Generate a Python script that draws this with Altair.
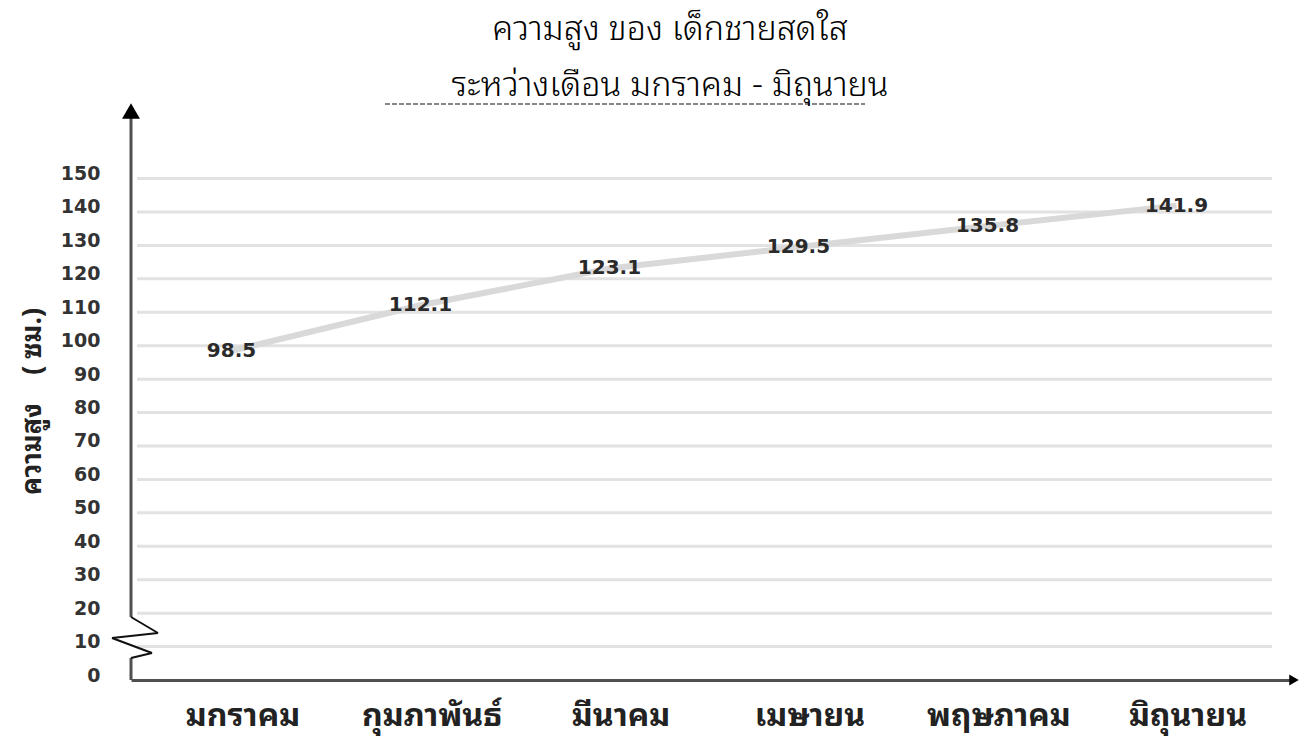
import altair as alt
import pandas as pd

# ---- data ----
months = ["มกราคม", "กุมภาพันธ์", "มีนาคม", "เมษายน", "พฤษภาคม", "มิถุนายน"]
heights = [98.5, 112.1, 123.1, 129.5, 135.8, 141.9]
y_ticks = list(range(0, 151, 10))
grid_values = list(range(10, 151, 10))
title_text = "ความสูง ของ เด็กชายสดใส"
subtitle_text = "ระหว่างเดือน มกราคม - มิถุนายน"
y_title = "ความสูง\u00a0\u00a0\u00a0\u00a0(\u00a0ซม.)"

df = pd.DataFrame({"month": months, "height": heights})
df["label"] = [f"{v:.1f}" for v in heights]
grid_df = pd.DataFrame({"v": grid_values})
one = pd.DataFrame({"k": [0]})

W, H = 1160, 575
THAI = "Noto Sans Thai Looped, Loma, Garuda, Tahoma, Noto Serif Thai, Noto Sans Thai, DejaVu Sans, sans-serif"
NUM = "DejaVu Sans"
AX = "#505050"

y_scale = alt.Scale(domain=[0, 172], nice=False)
x_scale = alt.Scale(type="point", padding=0.5688, align=0.4674)

x_axis = alt.Axis(
    title=None, domain=True, domainColor=AX, domainWidth=3, ticks=False, grid=False,
    labelFont=THAI, labelFontSize=32, labelFontWeight="bold", labelColor="#222",
    labelBaseline="middle", labelPadding=35, labelOffset=11, labelAngle=0,
)
y_axis = alt.Axis(
    values=y_ticks, domain=False, ticks=False, grid=False,
    labelFont=NUM, labelFontSize=19, labelFontWeight="bold", labelColor="#333",
    labelPadding=31, labelOffset=-5, labelBaseline="middle",
    title=y_title, titleFont=THAI, titleFontSize=27, titleFontWeight="bold", titleColor="#222",
    titleAngle=270, titleAlign="center", titleBaseline="middle", titleX=-99, titleY=296,
)

x_enc = alt.X("month:N", sort=months, scale=x_scale, axis=x_axis)

grid = alt.Chart(grid_df).mark_rule(color="#e2e2e2", strokeWidth=3).encode(
    y=alt.Y("v:Q", scale=y_scale, axis=y_axis), x=alt.value(6), x2=alt.value(1141)
)

line = alt.Chart(df).mark_line(color="#d9d9d9", strokeWidth=6).encode(
    x=x_enc, y=alt.Y("height:Q", scale=y_scale, axis=y_axis)
)

labels = alt.Chart(df).mark_text(
    font=NUM, fontWeight="bold", fontSize=20, color="#2a2a2a", baseline="middle", align="center"
).encode(
    x=x_enc,
    y=alt.Y("height:Q", scale=y_scale, axis=y_axis),
    text="label:N",
)

# decorations: vertical axis with break, arrows, dotted underline
def seg(x1, y1, x2, y2, color=AX, w=3):
    return alt.Chart(one).mark_rule(color=color, strokeWidth=w).encode(
        x=alt.value(x1), y=alt.value(y1), x2=alt.value(x2), y2=alt.value(y2)
    )

deco = [
    seg(0, 8, 0, 512),
    seg(0, 553, 0, H),
    seg(0, 512, 27, 528, "#111", 2),
    seg(27, 528, -19, 533, "#111", 2),
    seg(-19, 533, 21, 548, "#111", 2),
    seg(21, 548, 0, 553, "#111", 2),
]
arrow_up = alt.Chart(one).mark_point(shape="triangle-up", filled=True, size=320, color="#000", opacity=1).encode(
    x=alt.value(0), y=alt.value(6)
)
arrow_right = alt.Chart(one).mark_point(shape="triangle-right", filled=True, size=120, color="#000", opacity=1).encode(
    x=alt.value(W + 3), y=alt.value(H)
)
underline = alt.Chart(one).mark_rule(color="#888", strokeWidth=2, strokeDash=[5, 2]).encode(
    x=alt.value(254), x2=alt.value(734), y=alt.value(-1)
)

chart = alt.layer(grid, line, labels, *deco, arrow_up, arrow_right, underline).properties(
    width=W, height=H,
    title=alt.TitleParams(
        text=title_text, subtitle=subtitle_text,
        fontSize=34, font=THAI, fontWeight=300, color="#000", lineHeight=34,
        subtitleFontSize=34, subtitleFont=THAI, subtitleFontWeight=300, subtitleColor="#000",
        subtitleLineHeight=34, subtitlePadding=22,
        anchor="middle", dx=-41, offset=0,
    ),
    autosize=alt.AutoSizeParams(type="none"),
    padding={"left": 123, "top": 97, "right": 15, "bottom": 56},
).configure_view(stroke=None)

chart.save("out.html", embed_options={"renderer": "svg", "actions": False})
